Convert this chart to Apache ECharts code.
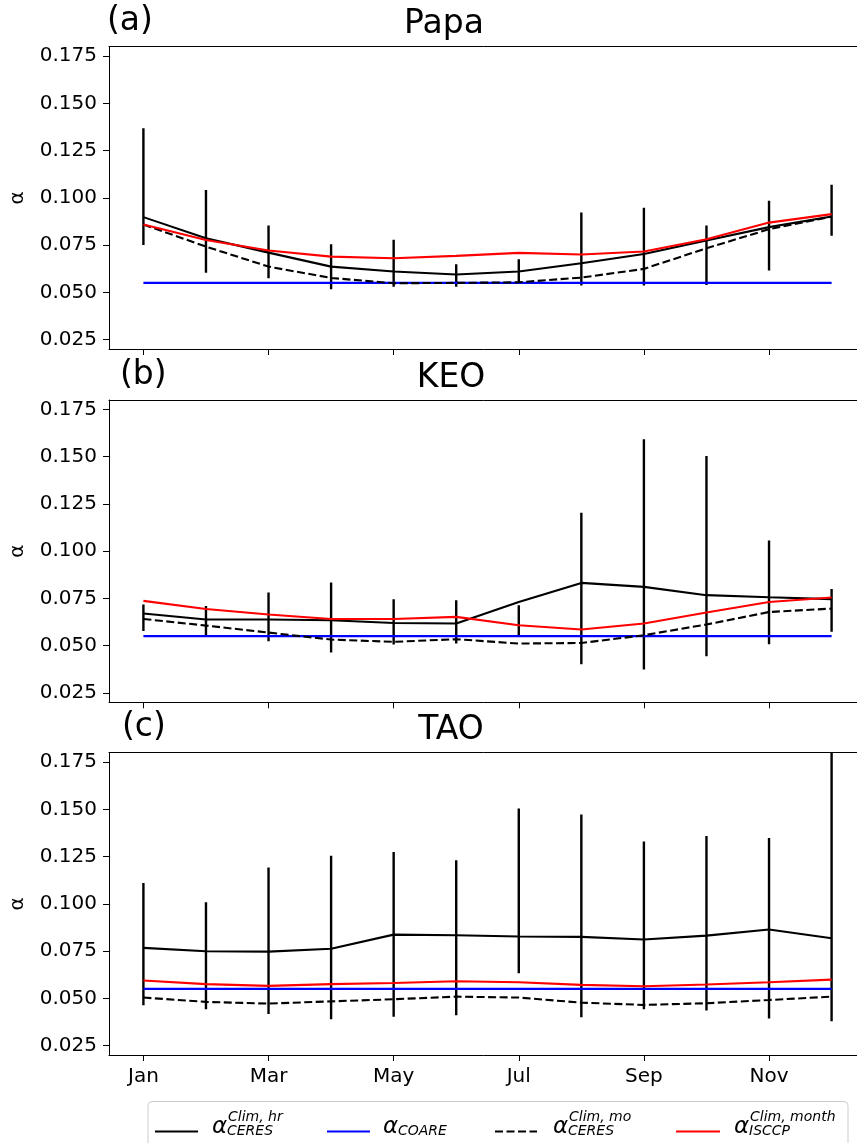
<!DOCTYPE html>
<html>
<head>
<meta charset="utf-8">
<script src="https://cdn.jsdelivr.net/npm/echarts@6/dist/echarts.min.js"></script>
<style>
html,body{margin:0;padding:0;background:#fff;overflow:hidden;}
#chart{width:857px;height:1143px;}
</style>
</head>
<body>
<div id="chart"></div>
<script>
// ---------------- data ----------------
const months = [1,2,3,4,5,6,7,8,9,10,11,12];
const monthNames = ['Jan','Feb','Mar','Apr','May','Jun','Jul','Aug','Sep','Oct','Nov','Dec'];
const xTicks = [1,3,5,7,9,11];
const yTicks = [0.025,0.05,0.075,0.1,0.125,0.15,0.175];
const panelTags = ['(a)','(b)','(c)'];
const panelNames = ['Papa','KEO','TAO'];
const coareValue = 0.055;

// Papa
const papaHr     = [0.0898,0.0786,0.0710,0.0636,0.0610,0.0594,0.0610,0.0654,0.0703,0.0774,0.0845,0.0901];
const papaMo     = [0.0859,0.0742,0.0636,0.0576,0.0548,0.0550,0.0553,0.0578,0.0624,0.0733,0.0834,0.0901];
const papaIsccp  = [0.0859,0.0777,0.0721,0.0689,0.0680,0.0693,0.0709,0.0700,0.0716,0.0781,0.0869,0.0914];
const papaErrLo  = [0.0751,0.0604,0.0575,0.0516,0.0530,0.0530,0.0548,0.0536,0.0536,0.0539,0.0615,0.0800];
const papaErrHi  = [0.1369,0.1042,0.0853,0.0755,0.0778,0.0649,0.0675,0.0922,0.0947,0.0853,0.0984,0.1069];

// KEO
const keoHr      = [0.0670,0.0638,0.0638,0.0634,0.0620,0.0617,0.0731,0.0832,0.0811,0.0767,0.0756,0.0746];
const keoMo      = [0.0641,0.0606,0.0569,0.0532,0.0520,0.0534,0.0511,0.0514,0.0555,0.0612,0.0678,0.0696];
const keoIsccp   = [0.0737,0.0694,0.0665,0.0641,0.0641,0.0652,0.0608,0.0585,0.0617,0.0675,0.0731,0.0755];
const keoErrLo   = [0.0578,0.0555,0.0523,0.0463,0.0506,0.0511,0.0551,0.0401,0.0373,0.0444,0.0507,0.0573];
const keoErrHi   = [0.0718,0.0710,0.0781,0.0834,0.0746,0.0740,0.0714,0.1203,0.1592,0.1503,0.1057,0.0800];

// TAO
const taoHr      = [0.0767,0.0749,0.0747,0.0762,0.0837,0.0834,0.0827,0.0825,0.0811,0.0832,0.0864,0.0818];
const taoMo      = [0.0504,0.0481,0.0472,0.0484,0.0495,0.0509,0.0504,0.0477,0.0465,0.0474,0.0491,0.0509];
const taoIsccp   = [0.0594,0.0575,0.0566,0.0575,0.0581,0.0590,0.0585,0.0571,0.0564,0.0573,0.0585,0.0599];
const taoErrLo   = [0.0463,0.0442,0.0417,0.0389,0.0403,0.0410,0.0633,0.0400,0.0442,0.0435,0.0393,0.0379];
const taoErrHi   = [0.1110,0.1009,0.1192,0.1254,0.1275,0.1231,0.1505,0.1473,0.1330,0.1359,0.1348,0.1950];

const panels = [
  {hr: papaHr, mo: papaMo, isccp: papaIsccp, lo: papaErrLo, hi: papaErrHi},
  {hr: keoHr,  mo: keoMo,  isccp: keoIsccp,  lo: keoErrLo,  hi: keoErrHi},
  {hr: taoHr,  mo: taoMo,  isccp: taoIsccp,  lo: taoErrLo,  hi: taoErrHi}
];

// ---------------- layout ----------------
const FONT = '"DejaVu Sans", sans-serif';
const Y_MIN = 0.02, Y_MAX = 0.18, X_MIN = 0.45, X_MAX = 12.55;
const gridTops = [46.7, 400, 752.7];
const gridH = 302.3;
const titleY = [24, 378, 730];
const titleCenterX = [444, 451, 451];
const tagX = [107, 120, 122];

const zip = (xs, ys) => xs.map((x, i) => [x, ys[i]]);

const grids = [], xAxes = [], yAxes = [], series = [], graphics = [];

panels.forEach((p, k) => {
  grids.push({left: 109, top: gridTops[k], width: 757, height: gridH,
    outerBoundsMode: 'none', containLabel: false, show: false});
  // bottom axis (index 2k)
  xAxes.push({
    type: 'value', gridIndex: k, position: 'bottom', min: X_MIN, max: X_MAX,
    axisLine: {show: true, onZero: false, lineStyle: {color: '#000', width: 1}},
    axisTick: {show: true, customValues: xTicks, length: 6, lineStyle: {color: '#000', width: 1}},
    axisLabel: {show: k === 2, customValues: xTicks, formatter: v => monthNames[Math.round(v) - 1],
      color: '#000', fontSize: 20, fontFamily: FONT, margin: 12},
    splitLine: {show: false}
  });
  // top spine (index 2k+1)
  xAxes.push({
    type: 'value', gridIndex: k, position: 'top', min: X_MIN, max: X_MAX,
    axisLine: {show: true, onZero: false, lineStyle: {color: '#000', width: 1}},
    axisTick: {show: false}, axisLabel: {show: false}, splitLine: {show: false}
  });
  yAxes.push({
    type: 'value', gridIndex: k, min: Y_MIN, max: Y_MAX,
    name: 'α', nameLocation: 'middle', nameRotate: 90, nameGap: 81,
    nameTextStyle: {color: '#000', fontSize: 20, fontFamily: FONT},
    axisLine: {show: true, lineStyle: {color: '#000', width: 1}},
    axisTick: {show: true, customValues: yTicks, length: 6, lineStyle: {color: '#000', width: 1}},
    axisLabel: {customValues: yTicks, formatter: v => v.toFixed(3), color: '#000', fontSize: 20,
      fontFamily: FONT, margin: 12},
    splitLine: {show: false}
  });

  const xi = 2 * k;
  // error bars (custom series)
  const errData = months.map((m, i) => [m, p.lo[i], p.hi[i]]);
  series.push({
    type: 'custom', name: 'err' + k, xAxisIndex: xi, yAxisIndex: k, clip: true, z: 2,
    data: errData,
    renderItem: (params, api) => {
      const x = api.value(0);
      const lo = Math.max(api.value(1), Y_MIN);
      const hi = Math.min(api.value(2), Y_MAX);
      const a = api.coord([x, lo]);
      const b = api.coord([x, hi]);
      return {type: 'line', shape: {x1: a[0], y1: a[1], x2: b[0], y2: b[1]},
        style: {stroke: '#000', lineWidth: 2.4}};
    }
  });
  series.push({type: 'line', name: 'hr', xAxisIndex: xi, yAxisIndex: k, data: zip(months, p.hr),
    showSymbol: false, symbol: 'none', lineStyle: {color: '#000', width: 2.1}, z: 3, animation: false});
  series.push({type: 'line', name: 'coare', xAxisIndex: xi, yAxisIndex: k,
    data: zip(months, months.map(() => coareValue)),
    showSymbol: false, symbol: 'none', lineStyle: {color: '#0000ff', width: 2.1}, z: 4, animation: false});
  series.push({type: 'line', name: 'mo', xAxisIndex: xi, yAxisIndex: k, data: zip(months, p.mo),
    showSymbol: false, symbol: 'none', lineStyle: {color: '#000', width: 2.1, type: [8, 3.5]}, z: 5, animation: false});
  series.push({type: 'line', name: 'isccp', xAxisIndex: xi, yAxisIndex: k, data: zip(months, p.isccp),
    showSymbol: false, symbol: 'none', lineStyle: {color: '#ff0000', width: 2.1}, z: 6, animation: false});

  graphics.push({type: 'text', left: tagX[k], top: titleY[k] - 19,
    style: {text: panelTags[k], font: '33px ' + FONT, fill: '#000'}});
  graphics.push({type: 'text', x: titleCenterX[k], y: titleY[k],
    style: {text: panelNames[k], font: '33px ' + FONT, fill: '#000', textAlign: 'center', textVerticalAlign: 'middle'}});
});

// ---------------- legend (drawn) ----------------
const legendItems = [
  {x1: 155, x2: 198, color: '#000', dash: null, tx: 212, sup: 'Clim, hr', sub: 'CERES'},
  {x1: 327, x2: 370, color: '#0000ff', dash: null, tx: 383, sup: '', sub: 'COARE'},
  {x1: 495, x2: 537, color: '#000', dash: [8, 3.5], tx: 553, sup: 'Clim, mo', sub: 'CERES'},
  {x1: 676, x2: 720, color: '#ff0000', dash: null, tx: 734, sup: 'Clim, month', sub: 'ISCCP'}
];
const LY = 1131.5;
graphics.push({type: 'rect', shape: {x: 148, y: 1101.5, width: 700, height: 60, r: 4},
  style: {fill: '#fff', stroke: '#cccccc', lineWidth: 1}, z: 10});
legendItems.forEach(it => {
  graphics.push({type: 'line', shape: {x1: it.x1, y1: LY, x2: it.x2, y2: LY},
    style: {stroke: it.color, lineWidth: 2.1, lineDash: it.dash}, z: 11});
  graphics.push({type: 'text', x: it.tx, y: LY + 7,
    style: {text: 'α', font: 'italic 23px ' + FONT, fill: '#000', textAlign: 'left', textVerticalAlign: 'bottom'}, z: 11});
  if (it.sup) graphics.push({type: 'text', x: it.tx + 16, y: 1117,
    style: {text: it.sup, font: 'italic 14px ' + FONT, fill: '#000', textAlign: 'left', textVerticalAlign: 'middle'}, z: 11});
  graphics.push({type: 'text', x: it.tx + 15, y: 1131,
    style: {text: it.sub, font: 'italic 14px ' + FONT, fill: '#000', textAlign: 'left', textVerticalAlign: 'middle'}, z: 11});
});

const chart = echarts.init(document.getElementById('chart'), null, {renderer: 'canvas'});
chart.setOption({
  backgroundColor: '#fff',
  animation: false,
  grid: grids,
  xAxis: xAxes,
  yAxis: yAxes,
  series: series,
  graphic: graphics
});
</script>
</body>
</html>
